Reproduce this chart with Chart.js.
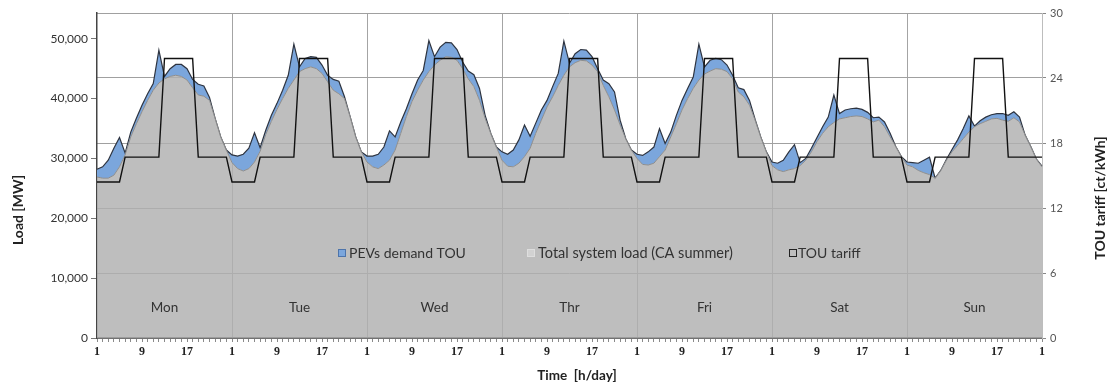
<!DOCTYPE html>
<html>
<head>
<meta charset="utf-8">
<script src="https://cdn.jsdelivr.net/npm/chart.js@4.4.0/dist/chart.umd.min.js"></script>
<style>
  html, body { margin: 0; padding: 0; background: #fff; }
  #wrap { width: 1111px; height: 387px; position: relative; }
</style>
</head>
<body>
<div id="wrap"><canvas id="loadChart"></canvas></div>
<script>
// hour of day for each point, one row per day (Mon..Sun) + closing point
const hours = [
  1,2,3,4,5,6,7,8,9,10,11,12,13,14,15,16,17,18,19,20,21,22,23,24,
  1,2,3,4,5,6,7,8,9,10,11,12,13,14,15,16,17,18,19,20,21,22,23,24,
  1,2,3,4,5,6,7,8,9,10,11,12,13,14,15,16,17,18,19,20,21,22,23,24,
  1,2,3,4,5,6,7,8,9,10,11,12,13,14,15,16,17,18,19,20,21,22,23,24,
  1,2,3,4,5,6,7,8,9,10,11,12,13,14,15,16,17,18,19,20,21,22,23,24,
  1,2,3,4,5,6,7,8,9,10,11,12,13,14,15,16,17,18,19,20,21,22,23,24,
  1,2,3,4,5,6,7,8,9,10,11,12,13,14,15,16,17,18,19,20,21,22,23,24,
  1
];
const days = ["Mon", "Tue", "Wed", "Thr", "Fri", "Sat", "Sun"];

// Total system load (CA summer) [MW]
const systemLoad = [
  26900,26700,26700,27200,28600,30600,33600,35800,37800,39700,41400,42600,43300,43700,43900,43700,43100,41800,40600,40400,39700,36700,33600,31400,
  29300,28300,27900,28300,29400,31200,34000,36200,38200,40000,41700,43100,44500,45000,45300,45000,44200,42800,41400,40800,40000,37000,33600,31100,
  29400,28600,28300,28900,29700,31400,34200,37000,39500,41400,43100,44500,45600,46400,47000,46900,46400,45000,43300,42000,39700,36700,34200,31900,
  29700,28700,28600,29200,30300,31700,34200,36400,38600,40300,42200,43900,45300,46000,46400,46300,45600,44500,42200,40300,38100,35600,33300,31400,
  30000,29000,28900,29200,30300,31400,33600,35800,38100,40000,41700,43100,44100,44600,45000,44900,44500,43300,41100,40300,38900,36400,33600,31100,
  28800,28100,27800,28100,28300,28800,29700,31100,32800,34200,35300,36000,36600,36800,37000,37100,37000,36600,36100,36400,35300,33600,32000,30300,
  28900,28600,28000,27600,27300,26700,28000,29700,31100,32200,33300,34400,35300,35800,36200,36600,36700,36400,36200,36800,36100,33900,32000,29900,
  28600
];

// system load incl. PEVs demand (TOU charging) [MW]
const loadWithPev = [
  28200,28600,29700,31700,33500,30900,34400,36700,38900,40800,42500,48100,43700,45000,45700,45700,45000,43200,42400,42100,40200,36700,33600,31400,
  30600,30400,30700,31700,34300,31800,34700,37200,39200,41400,43900,49100,45300,46700,47000,46900,45600,43900,43200,42900,40300,37000,33600,31100,
  30400,30400,30700,31900,34600,33600,36100,38300,40800,43100,44700,49700,47000,48600,49400,49300,48200,46100,44600,44000,41700,37200,34200,31900,
  31100,30700,31400,33100,35600,33700,35900,38100,39700,42000,44200,49600,45900,47500,48200,48100,47000,45000,43100,42500,41100,36400,33300,31400,
  30700,30500,31100,31900,35000,32500,34400,37200,39700,41700,43600,49100,45300,46400,46700,46500,45600,43900,41800,41500,39700,36500,33600,31100,
  29400,29200,29700,31100,32300,29300,30000,31700,33500,35300,36900,40600,37500,38100,38300,38400,38200,37700,36800,36900,36100,34200,32000,30300,
  29400,29300,29200,29700,30200,26700,28000,29800,31500,33100,35000,37100,35400,36300,36900,37300,37500,37500,37200,37800,36900,33900,32000,29900,
  28700
];

// TOU tariff [ct/kWh]
const touTariff = [
  14.4,14.4,14.4,14.4,14.4,16.7,16.7,16.7,16.7,16.7,16.7,16.7,25.8,25.8,25.8,25.8,25.8,25.8,16.7,16.7,16.7,16.7,16.7,16.7,
  14.4,14.4,14.4,14.4,14.4,16.7,16.7,16.7,16.7,16.7,16.7,16.7,25.8,25.8,25.8,25.8,25.8,25.8,16.7,16.7,16.7,16.7,16.7,16.7,
  14.4,14.4,14.4,14.4,14.4,16.7,16.7,16.7,16.7,16.7,16.7,16.7,25.8,25.8,25.8,25.8,25.8,25.8,16.7,16.7,16.7,16.7,16.7,16.7,
  14.4,14.4,14.4,14.4,14.4,16.7,16.7,16.7,16.7,16.7,16.7,16.7,25.8,25.8,25.8,25.8,25.8,25.8,16.7,16.7,16.7,16.7,16.7,16.7,
  14.4,14.4,14.4,14.4,14.4,16.7,16.7,16.7,16.7,16.7,16.7,16.7,25.8,25.8,25.8,25.8,25.8,25.8,16.7,16.7,16.7,16.7,16.7,16.7,
  14.4,14.4,14.4,14.4,14.4,16.7,16.7,16.7,16.7,16.7,16.7,16.7,25.8,25.8,25.8,25.8,25.8,25.8,16.7,16.7,16.7,16.7,16.7,16.7,
  14.4,14.4,14.4,14.4,14.4,16.7,16.7,16.7,16.7,16.7,16.7,16.7,25.8,25.8,25.8,25.8,25.8,25.8,16.7,16.7,16.7,16.7,16.7,16.7,
  16.7
];

const loadTicks = [0, 10000, 20000, 30000, 40000, 50000];

const BLUE = "#7ba6dc";
const GRAY_FILL = "rgba(176,176,176,0.82)";

// day names, legend inside the plot, and axis titles
const overlay = {
  id: "overlay",
  afterDatasetsDraw(chart) {
    const { ctx, scales } = chart;
    const x = scales.x;
    const y = scales.y;
    ctx.save();
    ctx.textBaseline = "middle";

    ctx.font = "13.5px Lato";
    ctx.fillStyle = "#333";
    ctx.textAlign = "center";
    days.forEach((d, i) => {
      ctx.fillText(d, x.getPixelForValue(i * 24 + 12), y.getPixelForValue(5000));
    });

    // legend
    const ly = 253;
    ctx.textAlign = "left";
    ctx.lineWidth = 1;

    ctx.fillStyle = BLUE;
    ctx.strokeStyle = "#4d74ab";
    ctx.fillRect(338.5, ly - 3.5, 7, 7);
    ctx.strokeRect(338.5, ly - 3.5, 7, 7);
    ctx.fillStyle = "#333";
    ctx.font = "14px Lato";
    ctx.fillText("PEVs demand TOU", 349, ly);

    ctx.fillStyle = "#d2d2d2";
    ctx.strokeStyle = "#dedede";
    ctx.fillRect(527.5, ly - 3.5, 7, 7);
    ctx.strokeRect(527.5, ly - 3.5, 7, 7);
    ctx.fillStyle = "#333";
    ctx.font = "14.5px Lato";
    ctx.fillText("Total system load (CA summer)", 538, ly);

    ctx.strokeStyle = "#222";
    ctx.strokeRect(789.5, ly - 3.5, 7, 7);
    ctx.fillStyle = "#333";
    ctx.font = "14px Lato";
    ctx.fillText("TOU tariff", 798, ly);
    ctx.restore();
  },
  afterDraw(chart) {
    const { ctx } = chart;
    ctx.save();
    ctx.fillStyle = "#222";
    ctx.font = "bold 13.5px Lato";
    ctx.textAlign = "center";
    ctx.textBaseline = "middle";
    ctx.fillText("Time  [h/day]", 577, 376);

    ctx.font = "bold 14px Lato";
    ctx.translate(18, 210);
    ctx.rotate(-Math.PI / 2);
    ctx.fillText("Load [MW]", 0, 0);
    ctx.restore();

    ctx.save();
    ctx.fillStyle = "#222";
    ctx.font = "bold 14px Lato";
    ctx.textAlign = "center";
    ctx.textBaseline = "middle";
    ctx.translate(1100, 198);
    ctx.rotate(-Math.PI / 2);
    ctx.fillText("TOU tariff [ct/kWh]", 0, 0);
    ctx.restore();
  }
};

new Chart(document.getElementById("loadChart"), {
  type: "line",
  data: {
    labels: hours,
    datasets: [
      {
        label: "TOU tariff",
        data: touTariff,
        yAxisID: "y2",
        borderColor: "#111",
        borderWidth: 1.4,
        pointRadius: 0,
        fill: false,
      },
      {
        label: "Total system load (CA summer)",
        data: systemLoad,
        yAxisID: "y",
        borderColor: "#8e8e8e",
        borderWidth: 1,
        backgroundColor: GRAY_FILL,
        pointRadius: 0,
        fill: "origin",
      },
      {
        label: "PEVs demand TOU",
        data: loadWithPev,
        yAxisID: "y",
        borderColor: "#2e3440",
        borderWidth: 1.2,
        backgroundColor: BLUE,
        pointRadius: 0,
        fill: "-1",
      },
    ],
  },
  options: {
    responsive: true,
    maintainAspectRatio: false,
    animation: false,
    layout: { padding: { top: 13, left: 0, right: 0, bottom: 0 } },
    plugins: {
      legend: { display: false },
      tooltip: { enabled: false },
    },
    scales: {
      x: {
        type: "category",
        offset: false,
        afterFit: (s) => { s.height = 49; },
        border: { color: "#444", width: 1.5 },
        grid: {
          drawOnChartArea: true,
          color: (c) => (c.index % 24 === 0 && c.index > 0 ? "#a4a4a4" : "rgba(0,0,0,0)"),
          tickColor: "#8a8a8a",
          tickLength: 4,
        },
        ticks: {
          autoSkip: false,
          maxRotation: 0,
          padding: 3,
          color: "#222",
          font: { family: "Liberation Serif", size: 12, weight: "bold" },
          callback: (v, i) => (i % 8 === 0 ? String(hours[i]) : ""),
        },
      },
      y: {
        position: "left",
        min: 0,
        max: 54300,
        afterFit: (s) => { s.width = 97; },
        afterBuildTicks: (s) => { s.ticks = loadTicks.map((v) => ({ value: v })); },
        border: { color: "#444", width: 1.5 },
        grid: { drawOnChartArea: false, tickLength: 6, tickColor: "#777" },
        ticks: {
          padding: 3,
          color: "#333",
          font: { family: "Lato", size: 12 },
          callback: (v) => v.toLocaleString("en-US"),
        },
      },
      y2: {
        position: "right",
        min: 0,
        max: 30,
        afterFit: (s) => { s.width = 69; },
        border: { color: "#bdbdbd", width: 1 },
        grid: { drawOnChartArea: true, color: "#a0a0a0", tickLength: 4, tickColor: "#888" },
        ticks: {
          stepSize: 6,
          padding: 4,
          color: "#555",
          font: { family: "Lato", size: 11 },
        },
      },
    },
  },
  plugins: [overlay],
});
</script>
</body>
</html>
